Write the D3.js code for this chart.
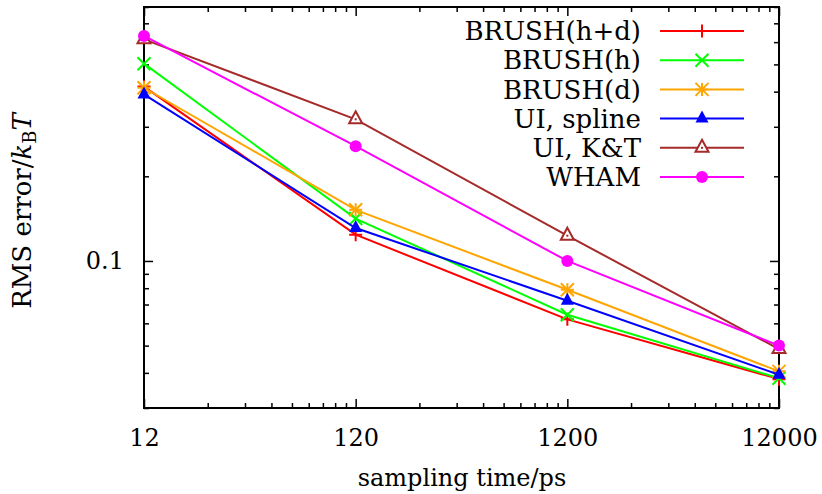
<!DOCTYPE html>
<html>
<head>
<meta charset="utf-8">
<script src="https://cdn.jsdelivr.net/npm/d3@7"></script>
<style>
    body { margin: 0; background: #fff; }
    text { font-family: "DejaVu Serif", serif; }
</style>
</head>
<body>
<svg id="drawing_region"></svg>
<script>
// sampling times (ps)
const times = [12, 120, 1200, 12000];
const xTickLabels = ["12", "120", "1200", "12000"];
const yTickValues = [0.1];
const yTickLabels = ["0.1"];

const seriesNames = ["BRUSH(h+d)", "BRUSH(h)", "BRUSH(d)", "UI, spline", "UI, K&T", "WHAM"];
const brushHD = [0.417, 0.124, 0.062, 0.0380];
const brushH = [0.503, 0.1415, 0.0644, 0.0383];
const brushD = [0.413, 0.152, 0.079, 0.0405];
const uiSpline = [0.391, 0.131, 0.0722, 0.0394];
const uiKT = [0.614, 0.319, 0.123, 0.0486];
const wham = [0.631, 0.256, 0.100, 0.0500];

const seriesValues = [brushHD, brushH, brushD, uiSpline, uiKT, wham];
const seriesColors = ["#ff0000", "#00ff00", "#ffa500", "#0000ff", "#a52a2a", "#ff00ff"];
const seriesMarkers = ["plus", "cross", "star", "triFilled", "triOpen", "circle"];

var config = {
    width: 822,
    height: 494,
    margin: { top: 7, right: 43, bottom: 86, left: 144 }
};

const svg = d3.select('#drawing_region')
    .attr('width', config.width)
    .attr('height', config.height);

const inner_w = config.width - config.margin.left - config.margin.right;
const inner_h = config.height - config.margin.top - config.margin.bottom;

const chart = svg.append('g')
    .attr('transform', `translate(${config.margin.left}, ${config.margin.top})`);

const x = d3.scaleLog().domain([12, 12000]).range([0, inner_w]);
const y = d3.scaleLog().domain([0.03, 0.8]).range([inner_h, 0]);

// minor tick positions
let xMinor = [];
times.slice(0, -1).forEach(t => {
    for (let k = 2; k <= 9; k++) xMinor.push(t * k);
});
let yMinor = [];
[0.01, 0.1].forEach(d => {
    for (let k = 1; k <= 9; k++) {
        const v = d * k;
        if (v >= 0.03 && v <= 0.8 && Math.abs(v - 0.1) > 1e-9) yMinor.push(v);
    }
});

function styleAxis(g) {
    g.selectAll('.domain').remove();
    g.selectAll('.tick line').attr('stroke', '#000').attr('stroke-width', 1.5);
    g.selectAll('.tick text').attr('fill', '#000');
}

// bottom
chart.append('g').attr('transform', `translate(0, ${inner_h})`)
    .call(d3.axisBottom(x).tickValues(xMinor).tickSize(-5).tickFormat(''))
    .call(styleAxis);
chart.append('g').attr('transform', `translate(0, ${inner_h})`)
    .call(d3.axisBottom(x).tickValues(times).tickSize(-9).tickPadding(21)
        .tickFormat((d, i) => xTickLabels[i]))
    .call(styleAxis)
    .selectAll('.tick text').attr('font-size', 24).attr('dy', '0.71em');
// top
chart.append('g')
    .call(d3.axisTop(x).tickValues(xMinor).tickSize(-5).tickFormat(''))
    .call(styleAxis);
chart.append('g')
    .call(d3.axisTop(x).tickValues(times).tickSize(-9).tickFormat(''))
    .call(styleAxis);
// left
chart.append('g')
    .call(d3.axisLeft(y).tickValues(yMinor).tickSize(-5).tickFormat(''))
    .call(styleAxis);
chart.append('g')
    .call(d3.axisLeft(y).tickValues(yTickValues).tickSize(-9).tickPadding(20)
        .tickFormat((d, i) => yTickLabels[i]))
    .call(styleAxis)
    .selectAll('.tick text').attr('font-size', 24);
// right
chart.append('g').attr('transform', `translate(${inner_w}, 0)`)
    .call(d3.axisRight(y).tickValues(yMinor).tickSize(-5).tickFormat(''))
    .call(styleAxis);
chart.append('g').attr('transform', `translate(${inner_w}, 0)`)
    .call(d3.axisRight(y).tickValues(yTickValues).tickSize(-9).tickFormat(''))
    .call(styleAxis);

// frame
chart.append('rect')
    .attr('width', inner_w)
    .attr('height', inner_h)
    .attr('fill', 'none')
    .attr('stroke', '#000')
    .attr('stroke-width', 2);

// axis titles
svg.append('text')
    .attr('x', 462)
    .attr('y', 486)
    .attr('text-anchor', 'middle')
    .attr('font-size', 24)
    .text('sampling time/ps');

const ylab = svg.append('text')
    .attr('transform', 'translate(31, 211) rotate(-90)')
    .attr('text-anchor', 'middle')
    .attr('font-size', 26);
ylab.append('tspan').text('RMS error/');
ylab.append('tspan').attr('font-style', 'italic').text('k');
ylab.append('tspan').attr('font-size', 18).attr('dy', 5).text('B');
ylab.append('tspan').attr('font-style', 'italic').attr('dy', -5).text('T');

// markers
function drawMarker(g, type, color, cx, cy) {
    const s = 6.5;
    if (type === 'plus' || type === 'star') {
        g.append('path')
            .attr('d', `M${cx - s},${cy}H${cx + s}M${cx},${cy - s}V${cy + s}`)
            .attr('stroke', color).attr('stroke-width', 2).attr('fill', 'none');
    }
    if (type === 'cross' || type === 'star') {
        g.append('path')
            .attr('d', `M${cx - s},${cy - s}L${cx + s},${cy + s}M${cx - s},${cy + s}L${cx + s},${cy - s}`)
            .attr('stroke', color).attr('stroke-width', 2).attr('fill', 'none');
    }
    if (type === 'triFilled' || type === 'triOpen') {
        const tri = `M${cx},${cy - 8}L${cx + 6.5},${cy + 4}L${cx - 6.5},${cy + 4}Z`;
        if (type === 'triFilled') {
            g.append('path').attr('d', tri).attr('fill', color);
        } else {
            g.append('path').attr('d', tri).attr('fill', '#fff')
                .attr('stroke', color).attr('stroke-width', 2);
            g.append('rect').attr('x', cx - 1).attr('y', cy - 1)
                .attr('width', 2).attr('height', 2).attr('fill', color);
        }
    }
    if (type === 'circle') {
        g.append('circle').attr('cx', cx).attr('cy', cy).attr('r', 6).attr('fill', color);
    }
}

const line = d3.line()
    .x(d => x(d.t))
    .y(d => y(d.v));

seriesValues.forEach((vals, i) => {
    const pts = vals.map((v, j) => ({ t: times[j], v: v }));
    const g = chart.append('g');
    g.append('path')
        .datum(pts)
        .attr('d', line)
        .attr('fill', 'none')
        .attr('stroke', seriesColors[i])
        .attr('stroke-width', 2);
    pts.forEach(p => drawMarker(g, seriesMarkers[i], seriesColors[i], x(p.t), y(p.v)));
});

// legend
const legend = svg.append('g');
seriesNames.forEach((name, i) => {
    const ly = 31 + i * 29.2;
    legend.append('text')
        .attr('x', 641)
        .attr('y', ly)
        .attr('dy', '0.35em')
        .attr('text-anchor', 'end')
        .attr('font-size', 26)
        .text(name);
    legend.append('line')
        .attr('x1', 660).attr('x2', 744)
        .attr('y1', ly).attr('y2', ly)
        .attr('stroke', seriesColors[i])
        .attr('stroke-width', 2);
    drawMarker(legend, seriesMarkers[i], seriesColors[i], 702, ly);
});
</script>
</body>
</html>
